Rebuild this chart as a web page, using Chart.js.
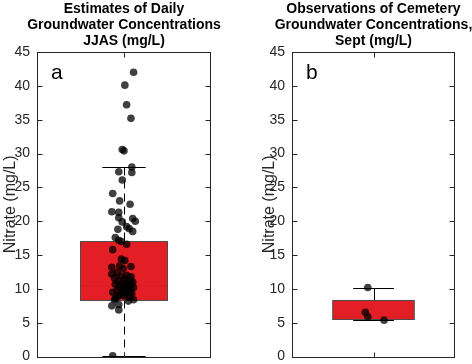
<!DOCTYPE html>
<html>
<head>
<meta charset="utf-8">
<script src="https://cdn.jsdelivr.net/npm/chart.js@4.4.1/dist/chart.umd.min.js"></script>
<style>
html, body { margin: 0; padding: 0; background: #fff; overflow: hidden; width: 472px; height: 364px; }
canvas { position: absolute; top: 0; }
#chartA { left: 0; }
#chartB { left: 232px; }
</style>
</head>
<body>
<canvas id="chartA" width="236" height="372"></canvas>
<canvas id="chartB" width="240" height="372"></canvas>
<script>
const FONT = "'Liberation Sans', Arial, Helvetica, sans-serif";

// y axis ticks (mg/L)
const yTicks = [0, 5, 10, 15, 20, 25, 30, 35, 40, 45];

// panel a: daily estimates, JJAS
const nitrateA = [42.0, 40.1, 37.2, 35.2, 30.6, 30.4, 28.0, 27.3, 27.2, 26.1,
  24.1, 23.0, 22.5, 21.4, 21.3, 20.5, 20.4, 20.0, 19.9, 19.2,
  18.9, 18.8, 18.5, 17.6, 17.2, 17.0, 16.6, 15.8, 14.4, 14.2,
  13.4, 13.3, 13.2, 13.0, 12.2, 12.0, 11.8, 12.4, 11.9, 11.6,
  11.5, 11.3, 11.2, 11.0, 10.9, 10.8, 10.7, 10.6, 10.5, 10.4,
  10.3, 10.2, 10.1, 10.0, 9.9, 9.8, 9.7, 9.6, 9.5, 9.4,
  9.3, 9.1, 9.0, 8.9, 8.8, 8.6, 8.4, 8.4, 8.2, 7.7,
  7.5, 6.9, 0.1];
// horizontal jitter of each point
const jitterA = [0.11, 0.01, 0.03, 0.08, -0.02, 0.00, 0.09, -0.06, 0.09, -0.02,
  -0.13, -0.05, 0.07, -0.14, -0.06, -0.06, 0.10, 0.13, -0.02, 0.03,
  0.06, -0.07, 0.10, -0.10, -0.06, -0.03, 0.03, -0.13, -0.03, 0.01,
  -0.05, 0.08, -0.14, -0.01, -0.14, 0.03, 0.08, -0.08, -0.03, -0.11,
  0.01, 0.07, -0.07, 0.10, -0.02, 0.03, -0.10, 0.08, 0.00, -0.06,
  0.05, 0.11, -0.03, 0.02, 0.07, -0.08, -0.01, 0.06, -0.13, 0.02,
  0.09, -0.05, 0.00, -0.07, 0.07, -0.10, -0.11, 0.11, 0.05, -0.06,
  -0.14, -0.06, -0.13];
// lower whisker, q1, median, q3, upper whisker
const statsA = [0.1, 8.4, 10.6, 17.1, 28.0];

// panel b: cemetery observations, Sept
const nitrateB = [10.2, 6.55, 5.87, 5.38];
const jitterB = [-0.07, -0.10, -0.07, 0.13];
const statsB = [5.4, 5.6, 6.0, 8.4, 10.2];

const titleA = ['Estimates of Daily', 'Groundwater Concentrations', 'JJAS (mg/L)'];
const titleB = ['Observations of Cemetery', 'Groundwater Concentrations,', 'Sept (mg/L)'];

const boxRed = '#e31e24';

// draws the box, whiskers, frame, inward ticks, title and panel letter
const boxPlot = {
  id: 'boxPlot',
  beforeDatasetsDraw(chart, args, opts) {
    const { ctx, scales: { x, y } } = chart;
    const [lo, q1, med, q3, hi] = opts.stats;
    const xc = Math.round(x.getPixelForValue(0)) + 0.5;
    const xl = x.getPixelForValue(-0.5), xr = x.getPixelForValue(0.5);
    const cl = x.getPixelForValue(-0.25), cr = x.getPixelForValue(0.25);
    const py = v => Math.round(y.getPixelForValue(v)) + 0.5;
    ctx.save();
    ctx.lineWidth = 1;
    ctx.strokeStyle = '#000';
    ctx.setLineDash(opts.dash);
    ctx.beginPath();
    ctx.moveTo(xc, py(hi)); ctx.lineTo(xc, py(q3));
    ctx.moveTo(xc, py(q1)); ctx.lineTo(xc, py(lo));
    ctx.stroke();
    ctx.setLineDash([]);
    ctx.beginPath();
    ctx.moveTo(cl, py(hi)); ctx.lineTo(cr, py(hi));
    ctx.moveTo(cl, py(lo)); ctx.lineTo(cr, py(lo));
    ctx.stroke();
    const top = py(q3), bot = py(q1);
    ctx.fillStyle = boxRed;
    ctx.fillRect(xl, top, xr - xl, bot - top);
    // median is drawn in red like the original, so it blends into the box
    ctx.strokeStyle = '#d81c22';
    ctx.beginPath();
    ctx.moveTo(xl, py(med)); ctx.lineTo(xr, py(med));
    ctx.stroke();
    ctx.strokeStyle = '#4d4d4d';
    ctx.strokeRect(xl, top, xr - xl, bot - top);
    ctx.restore();
  },
  afterDraw(chart, args, opts) {
    const { ctx, chartArea: a, scales: { x, y } } = chart;
    const L = Math.round(a.left) + 0.5, R = Math.round(a.right) - 0.5;
    const T = Math.round(a.top) + 0.5, B = Math.round(a.bottom) + 0.5;
    ctx.save();
    ctx.strokeStyle = '#262626';
    ctx.lineWidth = 1;
    ctx.strokeRect(L, T, R - L, B - T);
    ctx.beginPath();
    yTicks.forEach(v => {
      const p = Math.round(y.getPixelForValue(v)) + 0.5;
      ctx.moveTo(L, p); ctx.lineTo(L + 5, p);
      ctx.moveTo(R, p); ctx.lineTo(R - 5, p);
    });
    const xc = Math.round(x.getPixelForValue(0)) + 0.5;
    ctx.moveTo(xc, T); ctx.lineTo(xc, T + 5);
    ctx.moveTo(xc, B); ctx.lineTo(xc, B - 5);
    ctx.stroke();
    ctx.fillStyle = '#000';
    ctx.textBaseline = 'alphabetic';
    // panel title, centred over the plot box
    ctx.font = 'bold 14px ' + FONT;
    ctx.textAlign = 'center';
    opts.title.forEach((line, i) => ctx.fillText(line, (a.left + a.right) / 2, 13 + i * 16));
    // panel letter
    ctx.font = '21px ' + FONT;
    ctx.textAlign = 'left';
    ctx.fillText(opts.letter, a.left + 14, a.top + 27);
    ctx.restore();
  }
};

function makeChart(id, values, jitter, stats, title, letter, dash, padRight, axisWidth, titlePad) {
  return new Chart(document.getElementById(id), {
    type: 'scatter',
    data: {
      datasets: [{
        data: values.map((v, i) => ({ x: jitter[i], y: v })),
        backgroundColor: 'rgba(0,0,0,0.75)',
        borderWidth: 0,
        pointRadius: 3.8,
        pointHoverRadius: 3.8
      }]
    },
    options: {
      responsive: false,
      animation: false,
      layout: { padding: { left: 0, right: padRight, top: 52, bottom: 0 } },
      plugins: {
        legend: { display: false },
        tooltip: { enabled: false },
        title: { display: false },
        boxPlot: { stats: stats, letter: letter, dash: dash, title: title }
      },
      scales: {
        x: {
          type: 'linear', min: -1, max: 1,
          ticks: { display: false },
          grid: { display: false, drawTicks: false },
          border: { display: false },
          afterFit: s => { s.height = 13; }
        },
        y: {
          min: 0, max: 45,
          afterBuildTicks: s => { s.ticks = yTicks.map(v => ({ value: v })); },
          ticks: { color: '#262626', font: { family: FONT, size: 14 }, padding: 7 },
          grid: { display: false, drawTicks: false },
          border: { display: false },
          title: {
            display: true, text: 'Nitrate (mg/L)', color: '#262626',
            font: { family: FONT, size: 16 }, padding: { top: titlePad, bottom: 0 }
          },
          afterFit: s => { s.width = axisWidth; }
        }
      }
    },
    plugins: [boxPlot]
  });
}

makeChart('chartA', nitrateA, jitterA, statsA, titleA, 'a', [8, 5], 25, 37, 1);
makeChart('chartB', nitrateB, jitterB, statsB, titleB, 'b', [], 17, 60, 28);
</script>
</body>
</html>
